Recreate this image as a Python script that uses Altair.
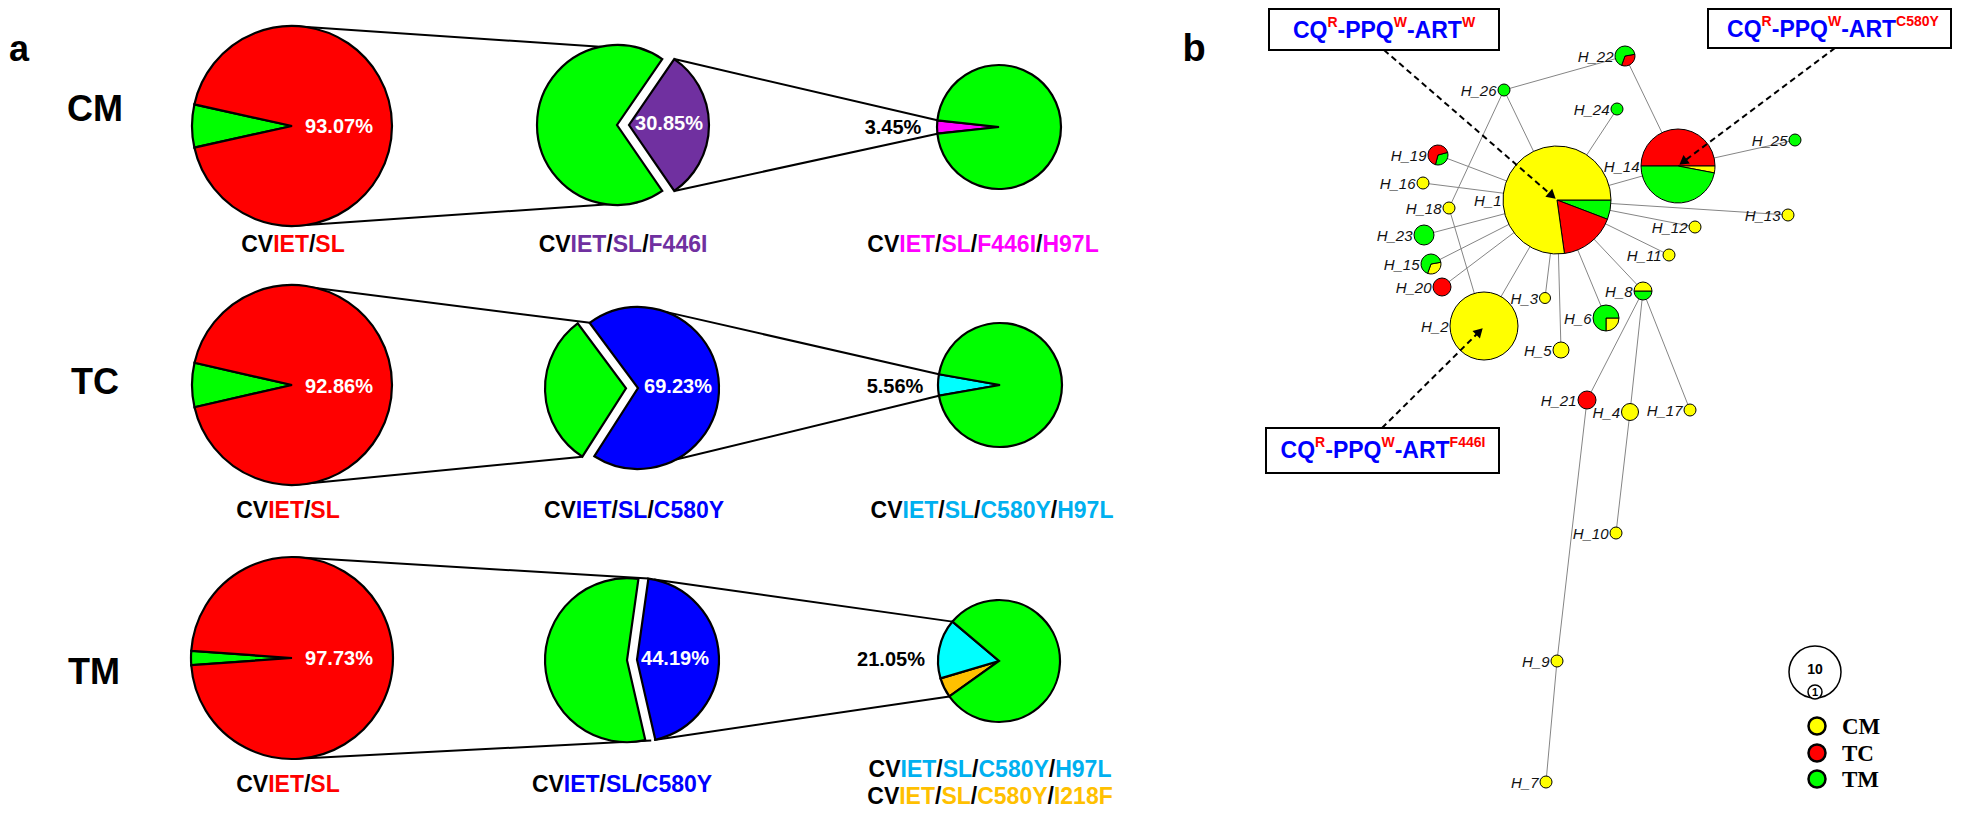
import math
import altair as alt
import pandas as pd

# ====================== DATA ======================
# --- panel a : percentages of each genotype slice (in drawing order) ---
pie_ids = ["CM_1", "CM_2", "CM_3", "TC_1", "TC_2", "TC_3", "TM_1", "TM_2", "TM_3"]
pie_values = {
    "CM_1": [6.93, 93.07], "CM_2": [30.85, 69.15], "CM_3": [3.45, 96.55],
    "TC_1": [7.14, 92.86], "TC_2": [30.77, 69.23], "TC_3": [5.56, 94.44],
    "TM_1": [2.27, 97.73], "TM_2": [44.19, 55.81], "TM_3": [5.26, 15.79, 78.95],
}
pie_slice_keys = {
    "CM_1": ["green", "red"], "CM_2": ["purple", "green"], "CM_3": ["magenta", "green"],
    "TC_1": ["green", "red"], "TC_2": ["green", "blue"], "TC_3": ["cyan", "green"],
    "TM_1": ["green", "red"], "TM_2": ["blue", "green"], "TM_3": ["orange", "cyan", "green"],
}
pie_pct_text = {
    "CM_1": "93.07%", "CM_2": "30.85%", "CM_3": "3.45%",
    "TC_1": "92.86%", "TC_2": "69.23%", "TC_3": "5.56%",
    "TM_1": "97.73%", "TM_2": "44.19%", "TM_3": "21.05%",
}
row_names = ["CM", "TC", "TM"]
# genotype labels: (text, colour key)
geno_labels = {
    "CM_1": [[("CV", "k"), ("IET", "red"), ("/", "k"), ("SL", "red")]],
    "CM_2": [[("CV", "k"), ("IET", "purpleT"), ("/", "k"), ("SL", "purpleT"), ("/", "k"), ("F446I", "purpleT")]],
    "CM_3": [[("CV", "k"), ("IET", "magenta"), ("/", "k"), ("SL", "magenta"), ("/", "k"),
              ("F446I", "magenta"), ("/", "k"), ("H97L", "magenta")]],
    "TC_1": [[("CV", "k"), ("IET", "red"), ("/", "k"), ("SL", "red")]],
    "TC_2": [[("CV", "k"), ("IET", "blue"), ("/", "k"), ("SL", "blue"), ("/", "k"), ("C580Y", "blue")]],
    "TC_3": [[("CV", "k"), ("IET", "lblue"), ("/", "k"), ("SL", "lblue"), ("/", "k"),
              ("C580Y", "lblue"), ("/", "k"), ("H97L", "lblue")]],
    "TM_1": [[("CV", "k"), ("IET", "red"), ("/", "k"), ("SL", "red")]],
    "TM_2": [[("CV", "k"), ("IET", "blue"), ("/", "k"), ("SL", "blue"), ("/", "k"), ("C580Y", "blue")]],
    "TM_3": [[("CV", "k"), ("IET", "lblue"), ("/", "k"), ("SL", "lblue"), ("/", "k"),
              ("C580Y", "lblue"), ("/", "k"), ("H97L", "lblue")],
             [("CV", "k"), ("IET", "gold"), ("/", "k"), ("SL", "gold"), ("/", "k"),
              ("C580Y", "gold"), ("/", "k"), ("I218F", "gold")]],
}

# --- panel b : haplotype network ---
hap_names = ["H_%d" % i for i in range(1, 27)]
# composition (population, fraction) in drawing order
hap_comp = {
    "H_1": [("TM", 0.058), ("TC", 0.17), ("CM", 0.772)],
    "H_2": [("CM", 1.0)],
    "H_3": [("CM", 1.0)], "H_4": [("CM", 1.0)], "H_5": [("CM", 1.0)],
    "H_6": [("CM", 0.25), ("TM", 0.75)],
    "H_7": [("CM", 1.0)],
    "H_8": [("TM", 0.5), ("CM", 0.5)],
    "H_9": [("CM", 1.0)], "H_10": [("CM", 1.0)], "H_11": [("CM", 1.0)],
    "H_12": [("CM", 1.0)], "H_13": [("CM", 1.0)],
    "H_14": [("TC", 0.5), ("CM", 0.03), ("TM", 0.47)],
    "H_15": [("CM", 1 / 3), ("TM", 2 / 3)],
    "H_16": [("CM", 1.0)], "H_17": [("CM", 1.0)], "H_18": [("CM", 1.0)],
    "H_19": [("TM", 1 / 3), ("TC", 2 / 3)],
    "H_20": [("TC", 1.0)], "H_21": [("TC", 1.0)],
    "H_22": [("TC", 1 / 3), ("TM", 2 / 3)],
    "H_23": [("TM", 1.0)], "H_24": [("TM", 1.0)], "H_25": [("TM", 1.0)], "H_26": [("TM", 1.0)],
}
hap_edges = [
    ("H_1", "H_26"), ("H_26", "H_22"), ("H_22", "H_14"), ("H_1", "H_24"), ("H_14", "H_25"),
    ("H_1", "H_14"), ("H_1", "H_19"), ("H_1", "H_16"), ("H_26", "H_18"), ("H_18", "H_2"),
    ("H_2", "H_1"), ("H_1", "H_23"), ("H_1", "H_15"), ("H_1", "H_20"), ("H_1", "H_3"),
    ("H_1", "H_5"), ("H_1", "H_6"), ("H_1", "H_8"), ("H_1", "H_11"), ("H_1", "H_12"),
    ("H_1", "H_13"), ("H_8", "H_21"), ("H_8", "H_4"), ("H_8", "H_17"), ("H_21", "H_9"),
    ("H_9", "H_7"), ("H_4", "H_10"),
]
box_texts = [
    [("CQ", "blue", 0), ("R", "red", 1), ("-PPQ", "blue", 0), ("W", "red", 1), ("-ART", "blue", 0), ("W", "red", 1)],
    [("CQ", "blue", 0), ("R", "red", 1), ("-PPQ", "blue", 0), ("W", "red", 1), ("-ART", "blue", 0), ("C580Y", "red", 1)],
    [("CQ", "blue", 0), ("R", "red", 1), ("-PPQ", "blue", 0), ("W", "red", 1), ("-ART", "blue", 0), ("F446I", "red", 1)],
]
legend_pops = ["CM", "TC", "TM"]
size_legend = ["10", "1"]

# ====================== STYLE / LAYOUT ======================
COL = {
    "green": "#00ff00", "red": "#ff0000", "purple": "#7030a0", "magenta": "#ff00ff",
    "blue": "#0000ff", "cyan": "#00ffff", "orange": "#ffc000", "yellow": "#ffff00",
    "k": "#000000", "purpleT": "#7030a0", "lblue": "#00b0f0", "gold": "#ffc000", "white": "#ffffff",
}
POP_COL = {"CM": "#ffff00", "TC": "#ff0000", "TM": "#00ff00"}

pie_layout = {  # cx, cy, r, start angle (deg, clockwise from 12 o'clock)
    "CM_1": (292, 126, 100, 257.53), "CM_2": (617, 125, 80, 34.47), "CM_3": (999, 127, 62, 263.79),
    "TC_1": (292, 385, 100, 257.15), "TC_2": (638, 388, 81, 212.61), "TC_3": (1000, 385, 62, 260.0),
    "TM_1": (292, 658, 101, 265.9), "TM_2": (632, 660, 82, 8.0), "TM_3": (999, 661, 61, 234.5),
}
explode = {("CM_2", 0): 12, ("TC_2", 0): 12, ("TM_2", 0): 5, ("TM_2", 1): 5}
pct_layout = {  # x, y, colour
    "CM_1": (339, 127, "white"), "CM_2": (669, 124, "white"), "CM_3": (893, 128, "k"),
    "TC_1": (339, 387, "white"), "TC_2": (678, 387, "white"), "TC_3": (895, 387, "k"),
    "TM_1": (339, 659, "white"), "TM_2": (675, 659, "white"), "TM_3": (891, 660, "k"),
}
row_layout = {"CM": (95, 110), "TC": (95, 383), "TM": (94, 673)}
label_layout = {  # cx, first-line y
    "CM_1": (293, 245), "CM_2": (623, 245), "CM_3": (983, 245),
    "TC_1": (288, 511), "TC_2": (634, 511), "TC_3": (992, 511),
    "TM_1": (288, 785), "TM_2": (622, 785), "TM_3": (990, 770),
}
connectors = [  # (pie, slice or None, angle) -> (pie, slice, angle)
    ("CM_1", None, 0, "CM_2", 1, 20), ("CM_1", None, 180, "CM_2", 1, 165),
    ("CM_2", 0, 34.47, "CM_3", 0, 276.2), ("CM_2", 0, 145.53, "CM_3", 0, 263.79),
    ("TC_1", None, 0, "TC_2", 1, 323.6), ("TC_1", None, 180, "TC_2", 0, 212.6),
    ("TC_2", 1, 20, "TC_3", 0, 280), ("TC_2", 1, 152, "TC_3", 0, 260),
    ("TM_1", None, 0, "TM_2", 0, 8), ("TM_1", None, 180, "TM_2", 0, 170),
    ("TM_2", 0, 12, "TM_3", 1, 310.2), ("TM_2", 0, 168, "TM_3", 0, 234.5),
]
node_layout = {  # x, y, radius, start angle
    "H_1": (1557, 200, 54, 90), "H_2": (1484, 326, 34, 0), "H_3": (1545, 298, 5.5, 0),
    "H_4": (1630, 412, 8.5, 0), "H_5": (1561, 350, 8, 0), "H_6": (1606, 318, 13, 90),
    "H_7": (1546, 782, 6, 0), "H_8": (1643, 291, 9, 90), "H_9": (1557, 661, 6, 0),
    "H_10": (1616, 533, 6, 0), "H_11": (1669, 255, 6, 0), "H_12": (1695, 227, 6, 0),
    "H_13": (1788, 215, 6, 0), "H_14": (1678, 166, 37, 270), "H_15": (1431, 264, 10, 80),
    "H_16": (1423, 183, 6, 0), "H_17": (1690, 410, 6, 0), "H_18": (1449, 208, 6, 0),
    "H_19": (1438, 155, 10, 75), "H_20": (1442, 287, 9, 0), "H_21": (1587, 400, 9, 0),
    "H_22": (1625, 56, 10, 80), "H_23": (1424, 235, 10, 0), "H_24": (1617, 109, 6, 0),
    "H_25": (1795, 140, 6, 0), "H_26": (1504, 90, 6, 0),
}
box_layout = [  # x0, y0, x1, y1, text centre x, text y, arrow from (x,y), arrow tip (x,y)
    (1269, 9, 1499, 50, 1384, 31, (1384, 50), (1556, 199)),
    (1708, 9, 1951, 48, 1833, 30, (1835, 48), (1679, 165)),
    (1266, 428, 1499, 473, 1383, 451, (1382, 428), (1483, 328)),
]
legend_layout = {"CM": (1817, 726), "TC": (1817, 753), "TM": (1817, 779)}

# Arial / Liberation Sans Bold advance widths (1/1000 em)
AW = {" ": 278, "%": 889, ".": 278, "/": 278, "-": 333, "_": 556,
      "A": 722, "B": 722, "C": 722, "D": 722, "E": 667, "F": 611, "G": 778, "H": 722, "I": 278,
      "J": 556, "K": 722, "L": 611, "M": 833, "N": 722, "O": 778, "P": 667, "Q": 778, "R": 722,
      "S": 667, "T": 611, "U": 722, "V": 667, "W": 944, "X": 667, "Y": 667, "Z": 611}


def tw(s, size):
    return sum(AW.get(c, 556) for c in s) * size / 1000.0


# ====================== BUILD TABLES ======================
arcs, conn = [], []
slice_geo = {}
for pid in pie_ids:
    cx, cy, r, a = pie_layout[pid]
    for i, (v, key) in enumerate(zip(pie_values[pid], pie_slice_keys[pid])):
        t0, t1 = a, a + v * 3.6
        a = t1
        e = explode.get((pid, i), 0)
        mid = math.radians((t0 + t1) / 2)
        sx, sy = cx + e * math.sin(mid), cy - e * math.cos(mid)
        slice_geo[(pid, i)] = (sx, sy, r)
        arcs.append(dict(cx=sx, cy=sy, r=r, t0=math.radians(t0), t1=math.radians(t1),
                         color=COL[key]))
arcs_df = pd.DataFrame(arcs)


def pt(pid, si, ang):
    if si is None:
        cx, cy, r, _ = pie_layout[pid]
    else:
        cx, cy, r = slice_geo[(pid, si)]
    a = math.radians(ang)
    return cx + r * math.sin(a), cy - r * math.cos(a)


for (p1, s1, a1, p2, s2, a2) in connectors:
    x1, y1 = pt(p1, s1, a1)
    x2, y2 = pt(p2, s2, a2)
    conn.append(dict(x=x1, y=y1, x2=x2, y2=y2))
conn_df = pd.DataFrame(conn)

pct_df = pd.DataFrame([dict(x=pct_layout[p][0], y=pct_layout[p][1], text=pie_pct_text[p],
                            color=COL[pct_layout[p][2]], size=20) for p in pie_ids])
big_df = pd.DataFrame([dict(x=row_layout[n][0], y=row_layout[n][1], text=n, color="#000", size=36)
                       for n in row_names] +
                      [dict(x=19, y=50, text="a", color="#000", size=36),
                       dict(x=1194, y=50, text="b", color="#000", size=38)])

seg_rows = []
LS = 23
for pid in pie_ids:
    cx, y0 = label_layout[pid]
    for li, line in enumerate(geno_labels[pid]):
        total = sum(tw(t, LS) for t, _ in line)
        x = cx - total / 2
        for t, ck in line:
            seg_rows.append(dict(x=x, y=y0 + li * 27, text=t, color=COL[ck], size=LS))
            x += tw(t, LS)
for bi, segs in enumerate(box_texts):
    _, _, _, _, tcx, ty, _, _ = box_layout[bi]
    sizes = [14 if sup else 23 for _, _, sup in segs]
    total = sum(tw(t, s) for (t, _, _), s in zip(segs, sizes))
    x = tcx - total / 2
    for (t, ck, sup), s in zip(segs, sizes):
        seg_rows.append(dict(x=x, y=ty - 8 if sup else ty, text=t, color=COL[ck], size=s))
        x += tw(t, s)
seg_df = pd.DataFrame(seg_rows)

edge_df = pd.DataFrame([dict(x=node_layout[a][0], y=node_layout[a][1],
                             x2=node_layout[b][0], y2=node_layout[b][1]) for a, b in hap_edges])
node_rows, nlab_rows = [], []
for h in hap_names:
    x, y, r, a = node_layout[h]
    for pop, f in hap_comp[h]:
        t0, t1 = a, a + f * 360
        a = t1
        node_rows.append(dict(cx=x, cy=y, r=r, t0=math.radians(t0), t1=math.radians(t1),
                              color=POP_COL[pop]))
    nlab_rows.append(dict(x=x - r - 1.5, y=y + 1, text=h, color="#111", size=15))
node_df = pd.DataFrame(node_rows)
nlab_df = pd.DataFrame(nlab_rows)

box_df = pd.DataFrame([dict(x=b[0], y=b[1], x2=b[2], y2=b[3]) for b in box_layout])
arr_rows, head_rows = [], []
for b in box_layout:
    (fx, fy), (tx, ty) = b[6], b[7]
    dx, dy = tx - fx, ty - fy
    L = math.hypot(dx, dy)
    ux, uy = dx / L, dy / L
    arr_rows.append(dict(x=fx, y=fy, x2=tx - ux * 6, y2=ty - uy * 6))
    ang = math.degrees(math.atan2(ux, -uy)) % 360
    head_rows.append(dict(x=tx - ux * 5, y=ty - uy * 5, ang=ang))
arr_df = pd.DataFrame(arr_rows)
head_df = pd.DataFrame(head_rows)

leg_rows = [dict(cx=legend_layout[p][0], cy=legend_layout[p][1], r=8.5, t0=0.0, t1=2 * math.pi,
                 color=POP_COL[p], sw=2.5) for p in legend_pops]
leg_df = pd.DataFrame(leg_rows)
size_df = pd.DataFrame([dict(cx=1815, cy=672, r=26, t0=0.0, t1=2 * math.pi, color="#ffffff"),
                        dict(cx=1815, cy=692, r=7, t0=0.0, t1=2 * math.pi, color="#ffffff")])
legtxt_df = pd.DataFrame([dict(x=1842, y=legend_layout[p][1] + 1, text=p, color="#000", size=23)
                          for p in legend_pops])
sizetxt_df = pd.DataFrame([dict(x=1815, y=670, text=size_legend[0], color="#000", size=14),
                           dict(x=1815, y=692.5, text=size_legend[1], color="#000", size=11)])

# ====================== CHART ======================
XS = alt.Scale(domain=[8, 1953], nice=False, zero=False)
YS = alt.Scale(domain=[8, 808], nice=False, zero=False, reverse=True)


def X(f):
    return alt.X(f + ":Q", scale=XS, axis=None)


def Y(f):
    return alt.Y(f + ":Q", scale=YS, axis=None)


def arc_layer(df, sw):
    return alt.Chart(df).mark_arc(stroke="black", strokeWidth=sw, strokeJoin="miter").encode(
        x=X("cx"), y=Y("cy"),
        theta=alt.Theta("t0:Q", scale=None, stack=False), theta2=alt.Theta2("t1:Q"),
        radius=alt.Radius("r:Q", scale=None),
        color=alt.Color("color:N", scale=None))


def rule_layer(df, color, sw, dash=None):
    kw = dict(color=color, strokeWidth=sw)
    if dash:
        kw["strokeDash"] = dash
    return alt.Chart(df).mark_rule(**kw).encode(
        x=X("x"), y=Y("y"), x2=alt.X2("x2:Q"), y2=alt.Y2("y2:Q"))


def text_layer(df, font, weight="bold", style="normal", align="center"):
    return alt.Chart(df).mark_text(font=font, fontWeight=weight, fontStyle=style, align=align,
                                   baseline="middle").encode(
        x=X("x"), y=Y("y"), text="text:N",
        size=alt.Size("size:Q", scale=None), color=alt.Color("color:N", scale=None))


layers = [
    rule_layer(conn_df, "black", 2),
    arc_layer(arcs_df, 2.2),
    text_layer(pct_df, "Liberation Sans"),
    text_layer(big_df, "Liberation Sans"),
    rule_layer(edge_df, "#858585", 1),
    arc_layer(node_df, 1),
    text_layer(nlab_df, "Liberation Sans", weight="normal", style="italic", align="right"),
    rule_layer(arr_df, "black", 2, [6, 4]),
    alt.Chart(head_df).mark_point(shape="triangle-up", filled=True, color="black", size=110,
                                  opacity=1).encode(x=X("x"), y=Y("y"),
                                                    angle=alt.Angle("ang:Q", scale=None)),
    alt.Chart(box_df).mark_rect(fill="white", stroke="black", strokeWidth=2).encode(
        x=X("x"), y=Y("y"), x2=alt.X2("x2:Q"), y2=alt.Y2("y2:Q")),
    text_layer(seg_df, "Liberation Sans", align="left"),
    arc_layer(size_df, 1.5),
    arc_layer(leg_df, 2.5),
    text_layer(legtxt_df, "Liberation Serif", align="left"),
    text_layer(sizetxt_df, "Liberation Sans"),
]

chart = alt.layer(*layers).properties(
    width=1945, height=800, padding=0,
    autosize=alt.AutoSizeParams(type="none"),
).configure_view(stroke=None)

chart.save("out.html", embed_options={"renderer": "svg", "actions": False})
